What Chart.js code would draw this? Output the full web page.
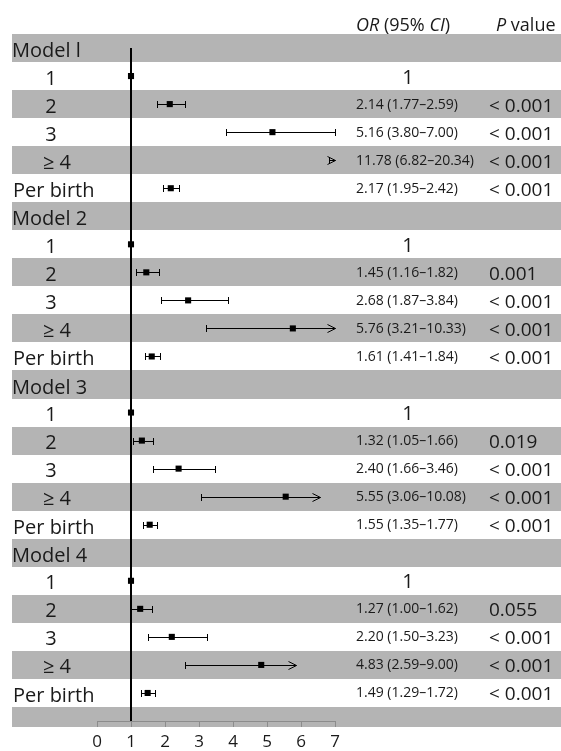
<!DOCTYPE html>
<html>
<head>
<meta charset="utf-8">
<script src="https://cdn.jsdelivr.net/npm/chart.js@4.4.0/dist/chart.umd.min.js"></script>
<style>
  html, body { margin: 0; padding: 0; background: #fff; }
  #wrap { width: 561px; height: 751px; }
</style>
</head>
<body>
<div id="wrap"><canvas id="forest" width="561" height="751"></canvas></div>
<script>
// Forest plot: odds ratios by number of births, four adjusted models
const groups = ['Model l', 'Model 2', 'Model 3', 'Model 4'];
const levels = ['1', '2', '3', '≥ 4', 'Per birth'];

// one entry per level, models one after another
const oddsRatio = [1, 2.14, 5.16, 11.78, 2.17,   1, 1.45, 2.68, 5.76, 1.61,
                   1, 1.32, 2.40, 5.55, 1.55,    1, 1.27, 2.20, 4.83, 1.49];
const ciLower = [null, 1.77, 3.80, 6.82, 1.95,   null, 1.16, 1.87, 3.21, 1.41,
                 null, 1.05, 1.66, 3.06, 1.35,   null, 1.00, 1.50, 2.59, 1.29];
const ciUpper = [null, 2.59, 7.00, 20.34, 2.42,  null, 1.82, 3.84, 10.33, 1.84,
                 null, 1.66, 3.46, 10.08, 1.77,  null, 1.62, 3.23, 9.00, 1.72];
// where the arrow is drawn when the interval runs off the axis
const arrowTips = [null, null, null, 7.0, null,  null, null, null, 7.0, null,
                   null, null, null, 6.55, null, null, null, null, 5.85, null];
const pValues = ['', '< 0.001', '< 0.001', '< 0.001', '< 0.001',
                 '', '0.001', '< 0.001', '< 0.001', '< 0.001',
                 '', '0.019', '< 0.001', '< 0.001', '< 0.001',
                 '', '0.055', '< 0.001', '< 0.001', '< 0.001'];
const xTicks = [0, 1, 2, 3, 4, 5, 6, 7];

const FONT = '"Open Sans", sans-serif';
const INK = '#1a1a1a';
const BAND = '#b4b4b4';
const AXIS = '#8c8c8c';

const rowCount = groups.length * (levels.length + 1) + 1; // last row is an empty band
function rowOf(i) {
    return Math.floor(i / levels.length) * (levels.length + 1) + 1 + (i % levels.length);
}

const refLine = [{ x: 1, y: 0 }, { x: 1, y: rowCount - 1 }];
const points = oddsRatio.map((v, i) => ({ x: v, y: rowOf(i) }));

function text(ctx, str, x, y, size, align, italic) {
    ctx.font = (italic ? 'italic ' : '') + size + 'px ' + FONT;
    ctx.textAlign = align || 'left';
    ctx.textBaseline = 'alphabetic';
    ctx.fillText(str, x, y);
    return ctx.measureText(str).width;
}

const forestDecor = {
    id: 'forestDecor',
    beforeDraw(chart) {
        const ctx = chart.ctx;
        const ys = chart.scales.y;
        const area = chart.chartArea;
        ctx.save();
        ctx.fillStyle = '#fff';
        ctx.fillRect(0, 0, chart.width, chart.height);

        // grey bands on every other row
        ctx.fillStyle = BAND;
        for (let r = 0; r < rowCount; r += 2) {
            const top = Math.round(ys.getPixelForValue(r - 0.5));
            let bottom = Math.round(ys.getPixelForValue(r + 0.5));
            if (r === rowCount - 1) bottom = area.bottom + 6;
            ctx.fillRect(12, top, chart.width - 12, bottom - top);
        }

        ctx.fillStyle = INK;
        // header
        let x = 356;
        x += text(ctx, 'OR', x, 31, 18, 'left', true);
        x += text(ctx, ' (95% ', x, 31, 18, 'left', false);
        x += text(ctx, 'CI', x, 31, 18, 'left', true);
        text(ctx, ')', x, 31, 18, 'left', false);
        x = 496;
        x += text(ctx, 'P', x, 31, 18, 'left', true);
        text(ctx, ' value', x, 31, 18, 'left', false);

        groups.forEach((g, gi) => {
            const y = ys.getPixelForValue(gi * (levels.length + 1));
            text(ctx, g, 12, y + 9, 20, 'left');
        });

        oddsRatio.forEach((v, i) => {
            const y = ys.getPixelForValue(rowOf(i));
            const lab = levels[i % levels.length];
            if (lab === 'Per birth') text(ctx, lab, 13, y + 9, 20, 'left');
            else if (lab === '≥ 4') text(ctx, lab, 57, y + 8.5, 20, 'center');
            else text(ctx, lab, 51, y + 8.5, 20, 'center');

            if (ciLower[i] === null) {
                text(ctx, String(v), 408, y + 7.5, 20, 'center');
            } else {
                const s = v.toFixed(2) + ' (' + ciLower[i].toFixed(2) + '–' + ciUpper[i].toFixed(2) + ')';
                text(ctx, s, 356, y + 4.5, 14, 'left');
            }
            if (pValues[i]) text(ctx, pValues[i], 489, y + 7.5, 19, 'left');
        });
        ctx.restore();
    },
    beforeDatasetsDraw(chart) {
        // confidence intervals with end caps, arrow when cut at the axis
        const ctx = chart.ctx;
        const xs = chart.scales.x;
        const ys = chart.scales.y;
        ctx.save();
        ctx.strokeStyle = '#000';
        ctx.lineWidth = 1;
        oddsRatio.forEach((v, i) => {
            if (ciLower[i] === null) return;
            const y = Math.round(ys.getPixelForValue(rowOf(i))) + 0.5;
            const x1 = Math.round(xs.getPixelForValue(ciLower[i])) + 0.5;
            const cut = arrowTips[i] !== null;
            const x2 = Math.round(xs.getPixelForValue(cut ? arrowTips[i] : ciUpper[i])) + 0.5;
            ctx.beginPath();
            ctx.moveTo(x1, y);
            ctx.lineTo(x2, y);
            ctx.moveTo(x1, y - 3.5);
            ctx.lineTo(x1, y + 3.5);
            if (cut) {
                ctx.moveTo(x2 - 8, y - 4);
                ctx.lineTo(x2, y);
                ctx.lineTo(x2 - 8, y + 4);
            } else {
                ctx.moveTo(x2, y - 3.5);
                ctx.lineTo(x2, y + 3.5);
            }
            ctx.stroke();
        });
        ctx.restore();
    }
};

new Chart(document.getElementById('forest'), {
    type: 'scatter',
    data: {
        datasets: [
            {
                data: points,
                pointStyle: 'rect',
                pointRadius: 4.3,
                pointBorderWidth: 0,
                backgroundColor: '#000',
                borderColor: '#000',
                order: 0
            },
            {
                type: 'line',
                data: refLine,
                borderColor: '#000',
                borderWidth: 2,
                pointRadius: 0,
                order: 1
            }
        ]
    },
    options: {
        responsive: false,
        devicePixelRatio: 1,
        animation: false,
        events: [],
        layout: { padding: { top: 34, left: 97, right: 226, bottom: 0 } },
        plugins: { legend: { display: false }, tooltip: { enabled: false } },
        scales: {
            x: {
                type: 'linear',
                min: xTicks[0],
                max: xTicks[xTicks.length - 1],
                afterBuildTicks: s => { s.ticks = xTicks.map(v => ({ value: v })); },
                afterFit: s => { s.height = 30; },
                ticks: { color: INK, font: { family: FONT, size: 17 }, padding: 5, autoSkip: false, maxRotation: 0 },
                grid: { drawOnChartArea: false, drawTicks: true, tickLength: 6, color: AXIS, lineWidth: 1 },
                border: { display: true, color: AXIS, width: 1 }
            },
            y: {
                type: 'linear',
                reverse: true,
                min: -0.5,
                max: rowCount - 1,
                display: false
            }
        }
    },
    plugins: [forestDecor]
});
</script>
</body>
</html>
